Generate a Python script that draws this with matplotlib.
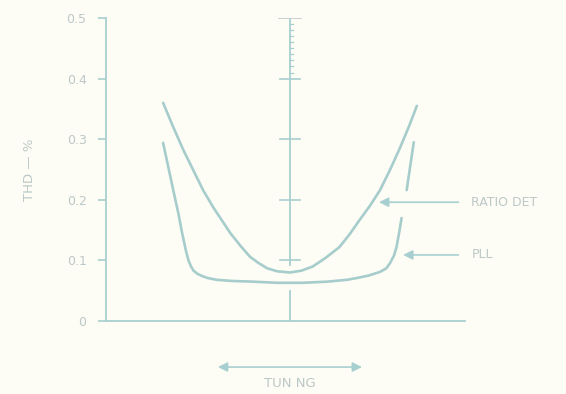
import matplotlib.pyplot as plt

# tuning offset (arbitrary units, 0 = centre) and THD in %
ratio_x = [-1.0, -0.92, -0.84, -0.76, -0.685, -0.6, -0.53, -0.47, -0.39, -0.315, -0.25, -0.18, -0.1, 0.0,
           0.09, 0.18, 0.28, 0.39, 0.47, 0.55, 0.63, 0.71, 0.79, 0.87, 0.94, 1.0]
ratio_y = [0.36, 0.32, 0.282, 0.248, 0.216, 0.186, 0.164, 0.145, 0.124, 0.106, 0.096, 0.087, 0.082, 0.080,
           0.083, 0.090, 0.104, 0.122, 0.143, 0.167, 0.190, 0.216, 0.250, 0.287, 0.322, 0.355]

pll_x = [-1.0, -0.96, -0.92, -0.88, -0.85, -0.82, -0.80, -0.78, -0.76, -0.73, -0.69, -0.65, -0.58, -0.45,
         -0.3, -0.1, 0.1, 0.3, 0.45, 0.53, 0.62, 0.71, 0.76, 0.79, 0.82, 0.84, 0.86, 0.88]
pll_y = [0.294, 0.255, 0.216, 0.178, 0.145, 0.116, 0.100, 0.090, 0.083, 0.078, 0.074, 0.071, 0.068, 0.066,
         0.065, 0.063, 0.063, 0.065, 0.068, 0.071, 0.075, 0.081, 0.087, 0.096, 0.108, 0.122, 0.145, 0.17]
pll_x2 = [0.92, 0.976]   # upper piece of the PLL curve, drawn with a gap
pll_y2 = [0.216, 0.295]

yticks = [0, 0.1, 0.2, 0.3, 0.4, 0.5]
yticklabels = ["0", "0.1", "0.2", "0.3", "0.4", "0.5"]

bg = "#fdfdf5"
line_c = "#a8cfd0"
curve_c = "#a6cccc"
text_c = "#bcc8c8"

fig = plt.figure(figsize=(5.66, 3.94), dpi=100, facecolor=bg)
ax = fig.add_axes([0.1873, 0.1853, 0.6343, 0.769])
ax.set_facecolor(bg)
ax.set_xlim(-1.45, 1.38)
ax.set_ylim(0, 0.5)

for s in ["top", "right"]:
    ax.spines[s].set_visible(False)
for s in ["left", "bottom"]:
    ax.spines[s].set_color(line_c)
    ax.spines[s].set_linewidth(1.3)

ax.set_xticks([])
ax.set_yticks(yticks)
ax.set_yticklabels(yticklabels)
ax.tick_params(axis="y", direction="out", length=6, width=1.2, color=line_c,
               labelcolor=text_c, labelsize=9, pad=8)
ax.set_ylabel("THD — %", color=text_c, fontsize=9.5, labelpad=22)

# centre reference line with its ticks
ax.plot([0, 0], [0.092, 0.5], color=line_c, lw=1.3)
ax.plot([0, 0], [0, 0.05], color=line_c, lw=1.3)
for v in [0.1, 0.2, 0.3, 0.4]:
    ax.plot([-0.08, 0.08], [v, v], color=line_c, lw=1.2)
ax.plot([-0.09, 0.09], [0.5, 0.5], color="#c4cfd2", lw=1.3)
for i in range(1, 10):
    v = 0.4 + i * 0.01
    ax.plot([0, 0.025], [v, v], color=line_c, lw=0.9)

ax.plot(ratio_x, ratio_y, color=curve_c, lw=1.9, solid_capstyle="round", solid_joinstyle="round")
ax.plot(pll_x, pll_y, color=curve_c, lw=1.9, solid_capstyle="round", solid_joinstyle="round")
ax.plot(pll_x2, pll_y2, color=curve_c, lw=1.9, solid_capstyle="round")

arrow = dict(arrowstyle="-|>", color=line_c, lw=1.2, mutation_scale=14)
ax.annotate("", xy=(0.68, 0.196), xytext=(1.35, 0.196), arrowprops=arrow, annotation_clip=False)
ax.annotate("", xy=(0.87, 0.109), xytext=(1.35, 0.109), arrowprops=arrow, annotation_clip=False)
ax.text(1.43, 0.196, "RATIO DET", color=text_c, fontsize=9, va="center", clip_on=False)
ax.text(1.43, 0.109, "PLL", color=text_c, fontsize=9, va="center", clip_on=False)

both = dict(arrowstyle="<|-|>", color=line_c, lw=1.2, mutation_scale=14)
ax.annotate("", xy=(-0.59, -0.076), xytext=(0.59, -0.076), arrowprops=both, annotation_clip=False)
ax.text(0, -0.103, "TUN NG", color=text_c, fontsize=9.5, ha="center", va="center", clip_on=False)

fig.savefig("out.png", dpi=100, facecolor=bg)
